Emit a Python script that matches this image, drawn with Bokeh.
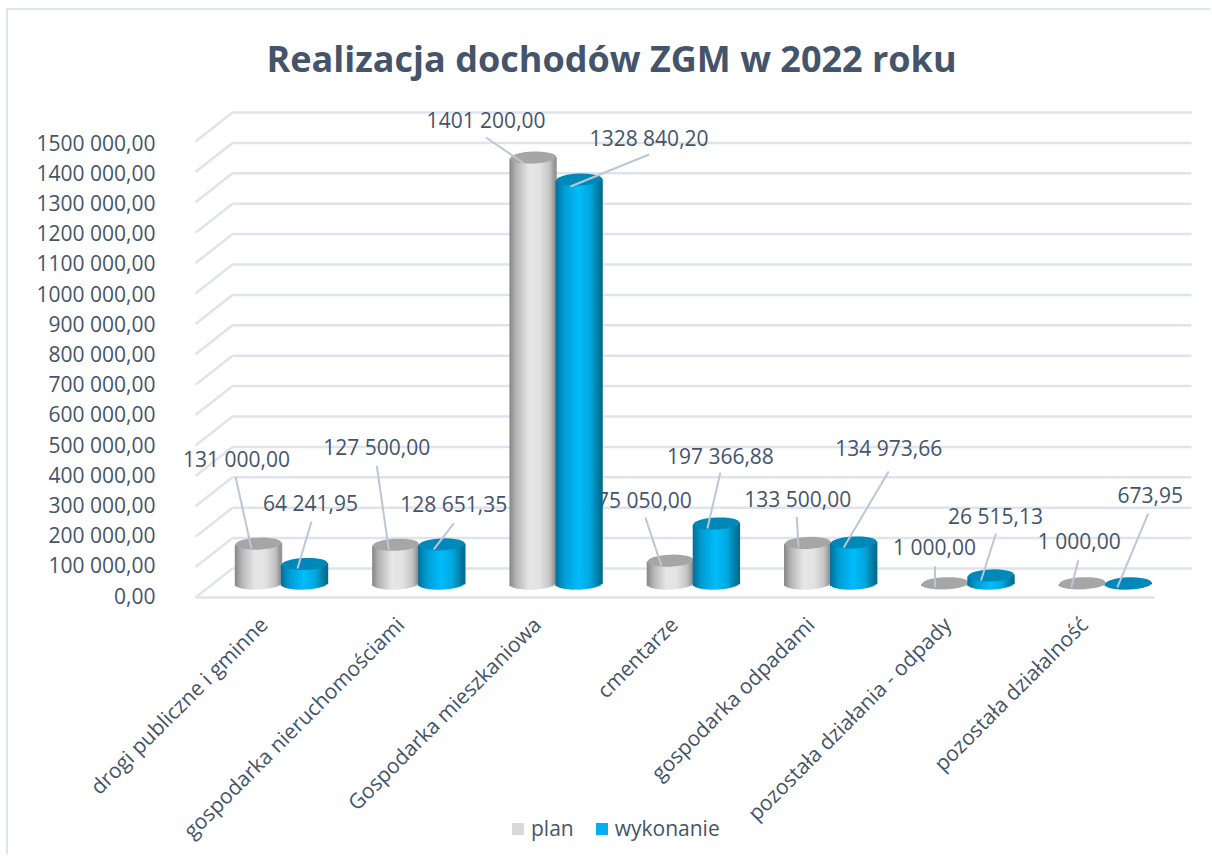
import math
from bokeh.plotting import figure
from bokeh.models import Range1d, LinearAxis, FixedTicker, Legend, LegendItem, ColumnDataSource
from bokeh.embed import file_html
from bokeh.resources import INLINE
from bokeh.core.properties import value

categories = ["drogi publiczne i gminne", "gospodarka nieruchomościami", "Gospodarka mieszkaniowa",
              "cmentarze", "gospodarka odpadami", "pozostała działania - odpady", "pozostała działalność"]
plan = [131000.00, 127500.00, 1401200.00, 75050.00, 133500.00, 1000.00, 1000.00]
wykonanie = [64241.95, 128651.35, 1328840.20, 197366.88, 134973.66, 26515.13, 673.95]
plan_labels = ["131 000,00", "127 500,00", "1401 200,00", "75 050,00", "133 500,00", "1 000,00", "1 000,00"]
wyk_labels = ["64 241,95", "128 651,35", "1328 840,20", "197 366,88", "134 973,66", "26 515,13", "673,95"]
tick_values = [i * 100000 for i in range(16)]
tick_labels = ["0,00", "100 000,00", "200 000,00", "300 000,00", "400 000,00", "500 000,00", "600 000,00",
               "700 000,00", "800 000,00", "900 000,00", "1000 000,00", "1100 000,00", "1200 000,00",
               "1300 000,00", "1400 000,00", "1500 000,00"]

# layout: label centre offsets and leader ends, px relative to the top centre of each cylinder
plan_lab_off = [(-22, -85), (-19, -98), (-47, -38), (-26, -61), (-10, -44), (-10.5, -36), (-3, -42)]
wyk_lab_off = [(6, -60.5), (12, -40), (70, -42), (4, -68), (35, -94), (4.5, -59), (22, -88)]
plan_lead = [(-7, 5, -23, -67), (-7, 5, -19, -79), (-9, 6, -47, -20), (-9, 5, -25, -43),
             (-9, 5, -11, -26), (-10, 4, -10, -17), (-11, 4, -4, -23)]
wyk_lead = [(-7, 4.5, 7, -42.5), (-8, 5, 12, -21), (-8.6, 7, 70, -25), (-9, 5, 4, -51),
            (-10, 5, 35, -71), (-10, 5, 5, -42), (-11, 4, 20, -70)]

TEXT = "#44546A"
GRID = "#DFE3EC"
FONT = "Open Sans"
PX_X = 137.3            # px per category
PX_Y = 0.000304         # px per unit of value
ORG_X, ORG_Y = 8, 10    # page position of the figure's content
FIG_W, FIG_H = 1204, 846
PAGE_L, PAGE_R, PAGE_T, PAGE_B = ORG_X, ORG_X + FIG_W, 100, ORG_Y + FIG_H
FLOOR_L, WALL_R, FLOOR_Y = 195, 1191, 597
AXIS_LINE_Y = 605
VALUE_AXIS_X = 155
CAT_TICK_0, CAT_TICK_STEP = 263, 136.7
BAR_ZERO, WALL_ZERO, AXIS_ZERO = 583, 568, 595
AXIS_PX = 0.000302
DEPTH_X, DEPTH_Y = 37, 29

def ylim(zero, k):
    return (zero - PAGE_B) / k, (zero - PAGE_T) / k

def xval(px):
    return (px - 281) / PX_X

p = figure(width=FIG_W, height=FIG_H, toolbar_location=None, output_backend="svg",
           x_range=Range1d(xval(PAGE_L), xval(PAGE_R)),
           y_range=Range1d(*ylim(BAR_ZERO, PX_Y)),
           x_axis_location=None, y_axis_location=None,
           min_border_left=0, min_border_right=0,
           min_border_top=PAGE_T - ORG_Y, min_border_bottom=0,
           outline_line_color=None, background_fill_color="white", border_fill_color="white",
           styles={"border-left": f"2px solid {GRID}", "border-top": f"2px solid {GRID}",
                   "margin-left": "6px", "margin-top": "8px"})
p.grid.visible = False

p.extra_y_ranges = {"wall": Range1d(*ylim(WALL_ZERO, PX_Y)), "axis": Range1d(*ylim(AXIS_ZERO, AXIS_PX))}
p.extra_x_ranges = {"cat": Range1d((PAGE_L - CAT_TICK_0) / CAT_TICK_STEP, (PAGE_R - CAT_TICK_0) / CAT_TICK_STEP)}

# title
p.title.text = "Realizacja dochodów ZGM w 2022 roku"
p.title.text_font = FONT
p.title.text_font_size = "36px"
p.title.text_font_style = "bold"
p.title.text_color = TEXT
p.title.align = "left"
p.title.offset = 258
p.title.standoff = 35

# value axis, fixed inside the frame
ax = LinearAxis(y_range_name="axis", ticker=FixedTicker(ticks=tick_values),
                major_label_overrides=dict(zip(tick_values, tick_labels)))
ax.fixed_location = xval(VALUE_AXIS_X)
ax.axis_line_color = None
ax.major_tick_line_color = None
ax.minor_tick_line_color = None
ax.major_tick_out = 0
ax.major_label_standoff = 0
ax.major_label_text_font = FONT
ax.major_label_text_font_size = "21px"
ax.major_label_text_color = TEXT
p.add_layout(ax, "left")

# category axis, fixed inside the frame so that the legend can share its band
xa = LinearAxis(x_range_name="cat", ticker=FixedTicker(ticks=list(range(len(categories)))),
                major_label_overrides=dict(enumerate(categories)))
xa.fixed_location = (BAR_ZERO - AXIS_LINE_Y) / PX_Y
xa.major_label_orientation = math.pi / 4
xa.axis_line_color = None
xa.major_tick_line_color = None
xa.minor_tick_line_color = None
xa.major_label_standoff = 9
xa.major_label_text_font = FONT
xa.major_label_text_font_size = "21px"
xa.major_label_text_color = TEXT
p.add_layout(xa, "below")

# walls and floor
x_l_front = xval(FLOOR_L)
x_l_back = xval(FLOOR_L + DEPTH_X)
x_r_back = xval(WALL_R)
x_r_front = xval(WALL_R - DEPTH_X)
drop = DEPTH_Y / PX_Y
p.segment(x0=[x_l_back] * 16, y0=tick_values, x1=[x_r_back] * 16, y1=tick_values,
          y_range_name="wall", line_color=GRID, line_width=2.5)
p.segment(x0=[x_l_back] * 16, y0=tick_values, x1=[x_l_front] * 16, y1=[v - drop for v in tick_values],
          y_range_name="wall", line_color=GRID, line_width=2.5)
p.segment(x0=[x_l_front], y0=[-drop], x1=[x_r_front], y1=[-drop],
          y_range_name="wall", line_color=GRID, line_width=2.5)

HALF_W = 23
HALF_H = 6
TILT = 0.04
N = 23

def hex2rgb(h):
    return [int(h[i:i + 2], 16) for i in (1, 3, 5)]

def shade(stops, t):
    for (t0, c0), (t1, c1) in zip(stops, stops[1:]):
        if t0 <= t <= t1:
            f = (t - t0) / (t1 - t0)
            a, b = hex2rgb(c0), hex2rgb(c1)
            return "#%02x%02x%02x" % tuple(round(a[i] + (b[i] - a[i]) * f) for i in range(3))
    return stops[-1][1]

plan_stops = [(-1, "#858585"), (-0.7, "#b5b5b5"), (-0.15, "#e6e6e6"), (0.3, "#e3e3e3"), (0.75, "#c4c4c4"), (1, "#8c8c8c")]
wyk_stops = [(-1, "#006f96"), (-0.6, "#009ed6"), (0, "#00bcfa"), (0.5, "#00a8e0"), (1, "#006a8c")]

# data labels go under the cylinders, as a bar hides the first digit of one of them
for vals, labs, off, shift in ((plan, plan_labels, plan_lab_off, -HALF_W), (wykonanie, wyk_labels, wyk_lab_off, HALF_W)):
    src = ColumnDataSource(dict(
        x=[i + shift / PX_X for i in range(len(vals))], y=vals, t=labs,
        xo=[o[0] for o in off], yo=[o[1] for o in off]))
    p.text(x="x", y="y", text="t", x_offset="xo", y_offset="yo", source=src, text_align="center",
           text_baseline="middle", text_font=value(FONT), text_font_size="21px", text_color=TEXT)

def cylinders(vals, shift, stops, top_color):
    xs, tops, bottoms, colors = [], [], [], []
    ws = 2 * HALF_W / N
    for i, v in enumerate(vals):
        for k in range(N):
            t = -1 + (k + 0.5) * 2 / N
            tilt = t * HALF_W * math.tan(TILT) / PX_Y
            xs.append(i + (shift + t * HALF_W) / PX_X)
            tops.append(v + tilt)
            bottoms.append(tilt - HALF_H * math.sqrt(1 - t * t) / PX_Y)
            colors.append(shade(stops, t))
    p.vbar(x=xs, top=tops, bottom=bottoms, width=ws * 1.7 / PX_X, fill_color=colors, line_color=None)
    p.ellipse(x=[i + shift / PX_X for i in range(len(vals))], y=vals, width=2 * HALF_W, height=2 * HALF_H,
              width_units="screen", height_units="screen", angle=TILT, fill_color=top_color, line_color=None)

cylinders(plan, -HALF_W, plan_stops, "#A6A6A6")
cylinders(wykonanie, HALF_W, wyk_stops, "#0088B8")

# leader lines
for vals, lead, shift in ((plan, plan_lead, -HALF_W), (wykonanie, wyk_lead, HALF_W)):
    p.segment(x0=[i + (shift + l[0]) / PX_X for i, l in enumerate(lead)],
              y0=[v - l[1] / PX_Y for v, l in zip(vals, lead)],
              x1=[i + (shift + l[2]) / PX_X for i, l in enumerate(lead)],
              y1=[v - l[3] / PX_Y for v, l in zip(vals, lead)],
              line_color="#BCC6D6", line_width=2)

# legend
nan = float("nan")
r1 = p.vbar(x=[nan], top=[nan], width=0.1, fill_color="#D9D9D9", line_color=None)
r2 = p.vbar(x=[nan], top=[nan], width=0.1, fill_color="#00B0F0", line_color=None)
legend = Legend(items=[LegendItem(label="plan", renderers=[r1]), LegendItem(label="wykonanie", renderers=[r2])],
                orientation="horizontal", location=(510 - PAGE_L, PAGE_B - 842),
                glyph_width=15, glyph_height=15, label_standoff=6, spacing=20, padding=2, margin=0,
                border_line_color=None, background_fill_alpha=0,
                label_text_font=FONT, label_text_font_size="21px", label_text_color=TEXT)
p.add_layout(legend)

open("out.html", "w").write(file_html(p, INLINE))
